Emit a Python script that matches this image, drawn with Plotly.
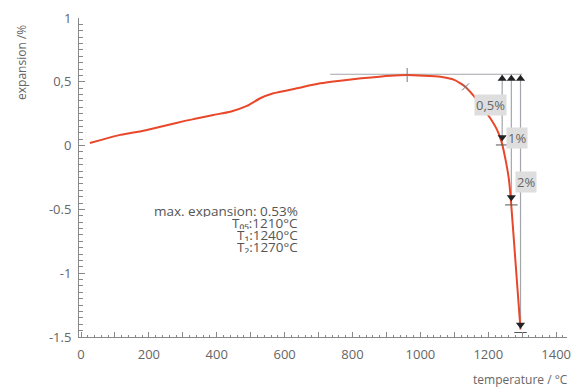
import plotly.graph_objects as go

# Curve data
temperature = [26, 60, 115, 150, 194, 262, 300, 340, 390, 440, 489, 528, 567, 636,
               705, 764, 826, 912, 961, 1059, 1100, 1133, 1167, 1206, 1226, 1239,
               1251, 1261, 1267, 1281, 1295]
expansion = [0.02, 0.045, 0.084, 0.10, 0.123, 0.165, 0.19, 0.212, 0.24, 0.266, 0.311,
             0.371, 0.41, 0.449, 0.488, 0.509, 0.527, 0.548, 0.553, 0.54, 0.515, 0.46,
             0.358, 0.214, 0.123, 0.031, -0.112, -0.268, -0.44, -0.94, -1.44]

# Reference level and shrinkage markers
ref_level = 0.559
ref_start = 734
ref_end = 1300
marker_x = [1241, 1268, 1295]
marker_y = [0.03, -0.44, -1.44]
marker_labels = ["0,5%", "1%", "2%"]
label_x = [1207, 1286, 1310]
label_y = [0.318, 0.06, -0.284]
max_point = (961, 0.553)
knee_point = (1133, 0.46)

xtick_vals = list(range(0, 1401, 100))
xtick_text = [str(v) if v % 200 == 0 else "" for v in xtick_vals]
ytick_vals = [-1.5, -1, -0.5, 0, 0.5, 1]
ytick_text = ["-1.5", "-1", "-0.5", "0", "0,5", "1"]

info_lines = ["max. expansion: 0.53%", "T₀₅:1210°C", "T₁:1240°C", "T₂:1270°C"]
info_y = [-0.509, -0.607, -0.704, -0.795]

FONT = "Open Sans"
GREY = "#666666"
LINE_GREY = "#a3a6aa"

# page body margin offset (8px) compensated
OFF = 8
W, H = 583 - OFF, 390 - OFF
L, T = 79 - OFF, 18 - OFF
R = W - (567 - OFF)
B = H - (337.5 - OFF)
PX_PER_Y = (H - T - B) / 2.5

fig = go.Figure()

shapes = [dict(type="line", x0=ref_start, x1=ref_end, y0=ref_level, y1=ref_level,
               line=dict(color=LINE_GREY, width=1.2), layer="below")]
for mx, my in zip(marker_x, marker_y):
    shapes.append(dict(type="line", x0=mx, x1=mx, y0=ref_level, y1=my,
                       line=dict(color=LINE_GREY, width=1.2), layer="below"))

fig.add_trace(go.Scatter(x=temperature, y=expansion, mode="lines",
                         line=dict(color="#e8472a", width=2, shape="spline", smoothing=0.5),
                         hoverinfo="skip", showlegend=False))

fig.add_trace(go.Scatter(x=[max_point[0]], y=[max_point[1]], mode="markers",
                         marker=dict(symbol="line-ns", size=10, line=dict(color="#777", width=1)),
                         showlegend=False))
fig.add_trace(go.Scatter(x=[knee_point[0]], y=[knee_point[1]], mode="markers",
                         marker=dict(symbol="x-thin", size=7, line=dict(color="#777", width=1)),
                         showlegend=False))
fig.add_trace(go.Scatter(x=marker_x, y=[v - 0.025 for v in marker_y], mode="markers",
                         marker=dict(symbol="line-ew", size=9, line=dict(color="#555", width=1)),
                         showlegend=False))
off = 4.5 / PX_PER_Y
fig.add_trace(go.Scatter(x=marker_x, y=[v + off for v in marker_y], mode="markers",
                         marker=dict(symbol="triangle-down", size=8, color="#222"),
                         showlegend=False))
fig.add_trace(go.Scatter(x=marker_x, y=[ref_level - off] * len(marker_x), mode="markers",
                         marker=dict(symbol="triangle-up", size=8, color="#222"),
                         showlegend=False))

annotations = []
for lx, ly, lt in zip(label_x, label_y, marker_labels):
    annotations.append(dict(x=lx, y=ly, xref="x", yref="y", text=lt, showarrow=False,
                            bgcolor="#dedede", borderpad=1,
                            font=dict(family=FONT, size=13, color=GREY)))
for t, yy in zip(info_lines, info_y):
    annotations.append(dict(x=646, y=yy, xref="x", yref="y", text=t, showarrow=False,
                            xanchor="right", yanchor="middle", height=12, valign="middle",
                            font=dict(family=FONT, size=13.5, color="#555")))

def px_to_paper(px, py):
    px -= OFF
    py -= OFF
    return (px - L) / (W - L - R), (H - B - py) / (H - T - B)

ax_, ay_ = px_to_paper(22, 63)
annotations.append(dict(x=ax_, y=ay_, xref="paper", yref="paper", text="expansion /%",
                        showarrow=False, textangle=-90, xanchor="center", yanchor="middle",
                        font=dict(family=FONT, size=12, color=GREY)))
bx_, by_ = px_to_paper(570, 380)
annotations.append(dict(x=bx_, y=by_, xref="paper", yref="paper", text="temperature / °C",
                        showarrow=False, xanchor="right", yanchor="middle",
                        font=dict(family=FONT, size=12, color=GREY)))

fig.update_layout(
    width=W, height=H, margin=dict(l=L, r=R, t=T, b=B, autoexpand=False),
    paper_bgcolor="white", plot_bgcolor="white",
    shapes=shapes, annotations=annotations, showlegend=False,
    font=dict(family=FONT, size=13, color=GREY),
    xaxis=dict(range=[-6, 1432], showgrid=False, zeroline=False, showline=True,
               automargin=False,
               linecolor="#888", linewidth=1, ticks="inside", ticklen=5, tickcolor="#888",
               tickvals=xtick_vals, ticktext=xtick_text, ticklabelstandoff=5,
               minor=dict(dtick=20, ticks="inside", ticklen=2.5, tickcolor="#888"),
               tickfont=dict(family=FONT, size=13, color=GREY)),
    yaxis=dict(range=[-1.5, 1], showgrid=False, zeroline=False, showline=True,
               automargin=False,
               linecolor="#888", linewidth=1, ticks="inside", ticklen=6, tickcolor="#888",
               tickvals=ytick_vals, ticktext=ytick_text, ticklabelstandoff=4,
               minor=dict(dtick=0.05, ticks="inside", ticklen=4, tickcolor="#888"),
               tickfont=dict(family=FONT, size=13, color=GREY)),
)

fig.write_html("out.html")
